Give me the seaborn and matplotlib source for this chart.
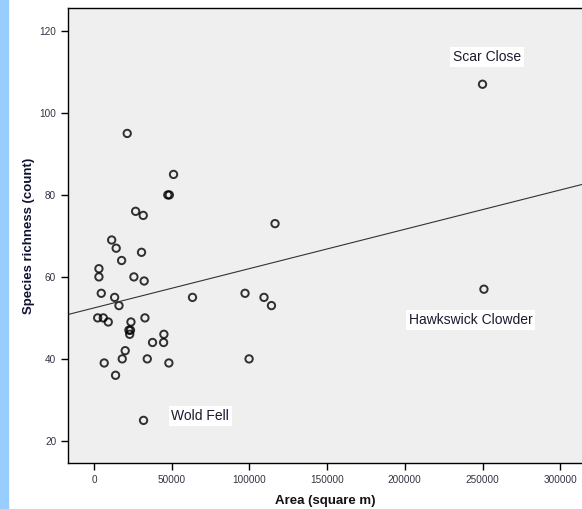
import matplotlib

matplotlib.use("Agg")
import matplotlib.pyplot as plt
import numpy as np
import pandas as pd
import seaborn as sns
from matplotlib.patches import Rectangle

# values
area = [
    21400, 51200, 47500, 48500, 26800, 31700, 116500, 11400, 14300, 30600,
    17800, 3200, 3200, 25700, 32300, 4700, 13300, 63400, 97200, 109400,
    16100, 114200, 2400, 6000, 9200, 32800, 23800, 22500, 23500, 23000,
    45000, 37700, 44800, 20100, 18200, 34300, 99800, 6600, 48200, 13900,
    31900, 250000, 250900,
]
richness = [
    95, 85, 80, 80, 76, 75, 73, 69, 67, 66,
    64, 62, 60, 60, 59, 56, 55, 55, 56, 55,
    53, 53, 50, 50, 49, 50, 49, 47, 47, 46,
    46, 44, 44, 42, 40, 40, 40, 39, 39, 36,
    25, 107, 57,
]
site_labels = ["Scar Close", "Hawkswick Clowder", "Wold Fell"]
label_x = [252700, 242300, 68400]
label_y = [113.7, 49.5, 26]
x_ticks = [0, 50000, 100000, 150000, 200000, 250000, 300000]
y_ticks = [20, 40, 60, 80, 100, 120]

df = pd.DataFrame({"area": area, "richness": richness})

sns.set_style("ticks")
plt.rcParams["font.family"] = ["Liberation Sans", "DejaVu Sans"]

fig = plt.figure(figsize=(5.82, 5.09), dpi=100)
fig.patches.append(
    Rectangle((0, 0), 8 / 582, 1, transform=fig.transFigure, color="#99ccff", zorder=0)
)
# axes run off the right edge of the picture, as in the cropped original
ax = fig.add_axes([68 / 582, 46 / 509, 1 - 68 / 582, 455 / 509])
ax.set_facecolor("#efefef")
ax.set_xlim(-16700, 314000)
ax.set_ylim(14.6, 125.6)

sns.regplot(
    data=df, x="area", y="richness", ax=ax, ci=None, truncate=False,
    scatter_kws={"s": 28, "facecolors": "none", "edgecolors": "black", "linewidths": 1.4},
    line_kws={"color": "#333333", "linewidth": 0.8},
)

for text, tx, ty in zip(site_labels, label_x, label_y):
    ax.text(tx, ty, text, ha="center", va="center", fontsize=10, color="#1a1a2e",
            bbox=dict(facecolor="white", edgecolor="none", pad=2))

ax.set_xticks(x_ticks)
ax.set_yticks(y_ticks)
ax.set_xticklabels([str(v) for v in x_ticks])
ax.tick_params(axis="both", labelsize=7.2, colors="black", labelcolor="#333344",
               length=5, width=1)
ax.set_xlabel("Area (square m)", fontsize=9.5, fontweight="bold", color="#111111")
ax.set_ylabel("Species richness (count)", fontsize=9.5, fontweight="bold", color="#111133")
ax.xaxis.labelpad = 7
ax.yaxis.labelpad = 3
for side in ["left", "bottom", "top"]:
    ax.spines[side].set_color("black")
    ax.spines[side].set_linewidth(1)
ax.spines["right"].set_visible(False)

fig.savefig("out.png", dpi=100)
